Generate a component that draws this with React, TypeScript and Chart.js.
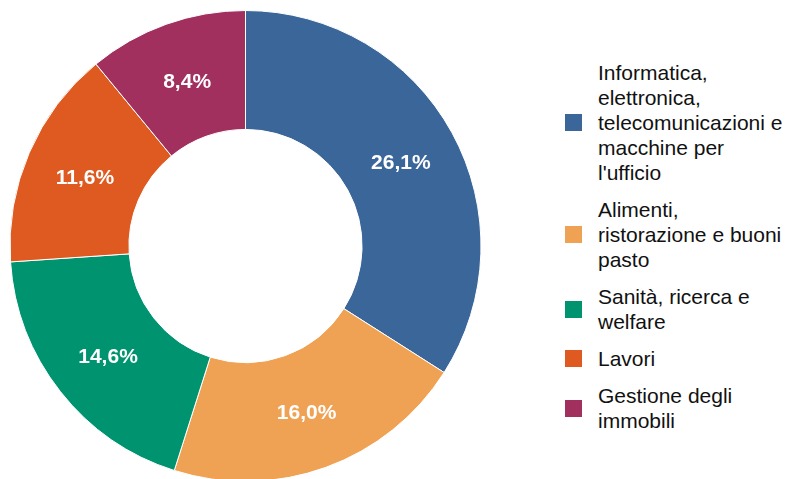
import React, { useEffect, useRef } from "react";
import { Chart, registerables } from "chart.js";

Chart.register(...registerables);

const categories: string[][] = [
  ["Informatica,", "elettronica,", "telecomunicazioni e", "macchine per", "l'ufficio"],
  ["Alimenti,", "ristorazione e buoni", "pasto"],
  ["Sanità, ricerca e", "welfare"],
  ["Lavori"],
  ["Gestione degli", "immobili"],
];
const values: number[] = [26.1, 16.0, 14.6, 11.6, 8.4];
const colors: string[] = ["#3b6699", "#f0a254", "#00936f", "#df5a21", "#a2305f"];

const FONT = "'Liberation Sans', Arial, sans-serif";

const labelPlugin = {
  id: "sliceLabels",
  afterDatasetsDraw(chart: any) {
    const ctx = chart.ctx;
    const meta = chart.getDatasetMeta(0);
    ctx.save();
    ctx.fillStyle = "#ffffff";
    ctx.font = `bold 21px ${FONT}`;
    ctx.textAlign = "center";
    ctx.textBaseline = "middle";
    meta.data.forEach((arc: any, i: number) => {
      const p = arc.tooltipPosition();
      const txt = values[i].toFixed(1).replace(".", ",") + "%";
      ctx.fillText(txt, p.x + 1, p.y + 2);
    });
    ctx.restore();
  },
};

export default function App() {
  const ref = useRef<HTMLCanvasElement | null>(null);
  useEffect(() => {
    if (!ref.current) return;
    const chart = new Chart(ref.current, {
      type: "doughnut",
      data: {
        labels: categories.map((c) => c.join(" ")),
        datasets: [
          {
            data: values,
            backgroundColor: colors,
            borderColor: "#ffffff",
            borderWidth: 1,
          },
        ],
      },
      options: {
        animation: false,
        responsive: false,
        cutout: "49.5%",
        layout: { padding: { left: 9, right: 8, top: 10, bottom: 10 } },
        plugins: {
          legend: { display: false },
          tooltip: { enabled: false },
        },
      },
      plugins: [labelPlugin],
    });
    return () => chart.destroy();
  }, []);

  return (
    <div
      style={{
        position: "fixed",
        left: 0,
        top: 0,
        width: 787,
        height: 479,
        overflow: "hidden",
        background: "#ffffff",
        fontFamily: FONT,
      }}
    >
      <canvas
        ref={ref}
        width={490}
        height={492}
        style={{ position: "absolute", left: 0, top: 0, width: 490, height: 492 }}
      />
      <div
        style={{
          position: "absolute",
          left: 565,
          top: 60,
          display: "flex",
          flexDirection: "column",
          gap: 12,
        }}
      >
        {categories.map((lines, i) => (
          <div key={i} style={{ display: "flex", alignItems: "center" }}>
            <div
              style={{
                width: 17,
                height: 17,
                background: colors[i],
                marginRight: 16,
                flex: "none",
              }}
            />
            <div style={{ fontSize: 21, lineHeight: "25px", color: "#111111", whiteSpace: "nowrap" }}>
              {lines.map((l, j) => (
                <div key={j}>{l}</div>
              ))}
            </div>
          </div>
        ))}
      </div>
    </div>
  );
}
